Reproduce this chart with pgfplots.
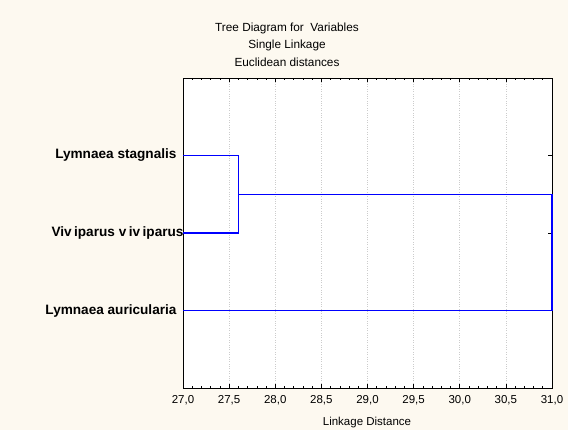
\documentclass[border=0pt]{standalone}
\usepackage{pgfplots}
\pgfplotsset{compat=1.18}
\usepackage{fontspec}
\setmainfont{Liberation Sans}
\definecolor{cream}{RGB}{253,249,240}
\definecolor{lineblue}{RGB}{0,0,255}
\begin{document}
\begin{tikzpicture}
\path[use as bounding box, fill=cream] (0,0) rectangle (568bp,430bp);
\node[font=\fontsize{11.8bp}{13bp}\selectfont] at (287bp,402bp) {Tree Diagram for\ \ Variables};
\node[font=\fontsize{11.8bp}{13bp}\selectfont] at (287bp,385bp) {Single Linkage};
\node[font=\fontsize{11.8bp}{13bp}\selectfont] at (287bp,368bp) {Euclidean distances};
\node[font=\fontsize{11.5bp}{13bp}\selectfont] at (367bp,7bp) {Linkage Distance};
\begin{axis}[
  at={(183bp,42bp)}, anchor=south west,
  scale only axis, width=369bp, height=310bp,
  xmin=27, xmax=31, ymin=0, ymax=4,
  axis background/.style={fill=white},
  axis line style={black, line width=0.8bp},
  xtick={27,27.5,...,31},
  minor x tick num=4,
  ytick={1,2,3},
  yticklabels={Lymnaea auricularia, {Viv\kern2.5bp iparus v\kern2.5bp iv\kern2.5bp iparus\kern-7bp}, Lymnaea stagnalis},
  tick align=inside,
  xtick pos=both, ytick pos=right,
  major tick length=4bp, minor tick length=2bp,
  tick style={black, line width=0.6bp},
  xmajorgrids,
  major x grid style={gray!40, dotted, line width=0.6bp},
  /pgf/number format/.cd, use comma, fixed, fixed zerofill, precision=1, assume math mode=true,
  /pgfplots/.cd,
  xticklabel style={font=\fontsize{11.5bp}{13bp}\selectfont, yshift=-4bp},
  yticklabel pos=left,
  yticklabel style={font=\bfseries\fontsize{13.6bp}{15bp}\selectfont, xshift=-3bp},
  clip=false,
]
\addplot[draw=lineblue, line width=1.1bp, mark=none] coordinates {(27.6,2.5) (31,2.5) (31,1) (27,1)};
\addplot[draw=lineblue, line width=1.1bp, mark=none] coordinates {(27,3) (27.6,3) (27.6,2) (27,2)};
\end{axis}
\end{tikzpicture}
\end{document}
